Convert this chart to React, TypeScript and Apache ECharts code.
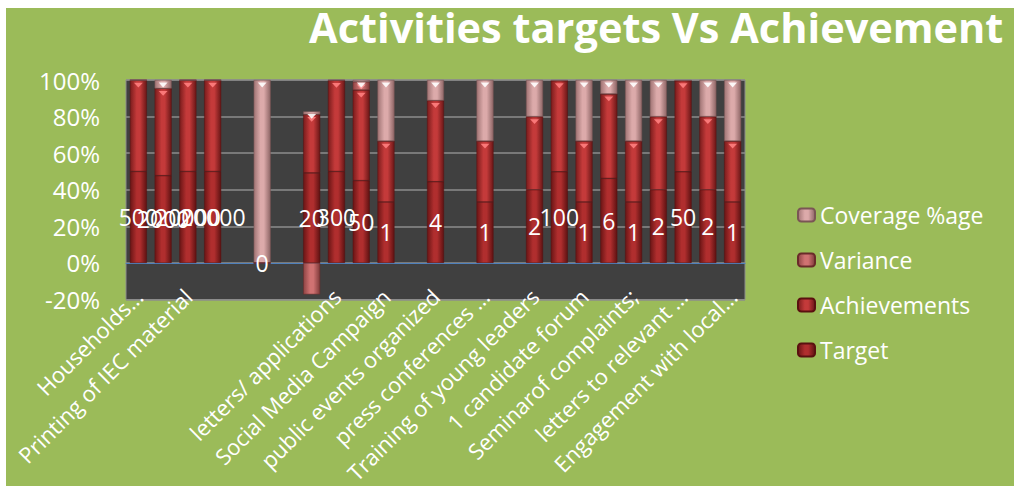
import React, { useEffect, useRef } from "react";
import * as echarts from "echarts";

const categories: string[] = [
  "Households…", "", "Printing of IEC material", "", "", "", "", "",
  "letters/ applications", "", "Social Media Campaign", "", "public events organized", "",
  "press conferences …", "", "Training of young leaders", "", "1 candidate forum", "",
  "Seminarof complaints;", "", "letters to relevant …", "", "Engagement with local…",
];

// 100%-stacked shares (percent of each bar)
const targetShare: (number | null)[] = [50, 47.7, 50, 50, null, 0, null, 49.2, 50, 45, 33.3, null, 44.4, null, 33.3, null, 40, 49.8, 33.3, 46.2, 33.3, 40, 49.8, 40, 33.3];
const achievementShare: (number | null)[] = [49.9, 47.7, 49.9, 49.9, null, 0, null, 32, 49.8, 49.5, 33.3, null, 44.4, null, 33.3, null, 40, 49.8, 33.3, 46.2, 33.3, 40, 49.8, 40, 33.3];
const varianceShare: (number | null)[] = [0, 0, 0, 0, null, 0, null, -17.2, 0, 4.5, 0, null, 0, null, 0, null, 0, 0, 0, 0, 0, 0, 0, 0, 0];
const coverageShare: (number | null)[] = [0.1, 4.6, 0.1, 0.1, null, 100, null, 1.6, 0.2, 1, 33.4, null, 11.2, null, 33.4, null, 20, 0.4, 33.4, 7.6, 33.4, 20, 0.4, 20, 33.4];

// data labels shown on the Target segments
const targetLabels: string[] = ["500", "2000", "20000", "20000", "", "0", "", "20", "300", "50", "1", "", "4", "", "1", "", "2", "100", "1", "6", "1", "2", "50", "2", "1"];

const yTicks = { min: -20, max: 100, interval: 20 };

const FONT = "'Open Sans', Lato, sans-serif";

const grad = (edge: string, mid: string, edge2: string) => ({
  type: "linear",
  x: 0, y: 0, x2: 1, y2: 0,
  colorStops: [
    { offset: 0, color: edge },
    { offset: 0.4, color: mid },
    { offset: 0.6, color: mid },
    { offset: 1, color: edge2 },
  ],
});

// top-of-segment positions (positive stack), derived from the share arrays
const stackTops = (layers: (number | null)[][]) => {
  const out: (number | null)[][] = layers.map(() => []);
  for (let i = 0; i < categories.length; i++) {
    let acc = 0;
    layers.forEach((layer, k) => {
      const v = layer[i];
      if (v == null || v < 1) {
        out[k].push(null);
      } else {
        acc += v;
        out[k].push(acc);
      }
    });
  }
  return out;
};

const W = 1040;
const H = 520;

export default function App() {
  const ref = useRef<HTMLDivElement>(null);
  useEffect(() => {
    if (!ref.current) return;
    const chart = echarts.init(ref.current, null, { renderer: "svg", width: W, height: H });
    const barW = 17;
    const common = {
      type: "bar",
      stack: "total",
      barWidth: barW,
      xAxisIndex: 0,
      yAxisIndex: 0,
    };
    const tops = stackTops([targetShare, achievementShare, varianceShare, coverageShare]);
    const highlightColors = ["#ff7a7a", "#ff8080", "#ffa0a0", "#ffffff"];
    const highlightSeries = tops.map((d, k) => ({
      type: "pictorialBar",
      name: "hl" + k,
      data: d,
      barWidth: barW,
      barGap: "-100%",
      symbol: "triangle",
      symbolRotate: 180,
      symbolSize: [9, 5],
      symbolPosition: "end",
      symbolOffset: [0, "50%"],
      itemStyle: { color: highlightColors[k], opacity: 0.9 },
      silent: true,
      z: 3,
      tooltip: { show: false },
    }));
    chart.setOption({
      animation: false,
      backgroundColor: "#9bbb59",
      textStyle: { fontFamily: FONT },
      title: {
        text: "Activities targets Vs Achievement",
        left: 303,
        top: -2,
        padding: 0,
        textStyle: { color: "#ffffff", fontSize: 41.5, fontWeight: "bold", fontFamily: FONT },
      },
      legend: {
        orient: "vertical",
        left: 791,
        top: 195,
        padding: 0,
        itemWidth: 17,
        itemHeight: 13,
        itemGap: 21,
        data: ["Coverage %age", "Variance", "Achievements", "Target"],
        textStyle: { color: "#ffffff", fontSize: 23, fontFamily: FONT, lineHeight: 24 },
      },
      grid: {
        left: 120,
        top: 72,
        width: 619,
        height: 219.5,
        show: true,
        backgroundColor: "#404040",
        borderColor: "#8c8c8c",
        borderWidth: 1,
      },
      xAxis: [
        {
          type: "category",
          data: categories,
          axisLine: { onZero: true, lineStyle: { color: "#4f81bd", width: 1 } },
          axisTick: { show: false },
          axisLabel: { show: false },
        },
        {
          type: "category",
          data: categories,
          position: "bottom",
          axisLine: { show: false, onZero: false },
          axisTick: { show: false },
          axisLabel: {
            interval: 1,
            rotate: 45,
            margin: -7,
            color: "#ffffff",
            fontSize: 22,
            fontFamily: FONT,
          },
        },
      ],
      yAxis: {
        type: "value",
        min: yTicks.min,
        max: yTicks.max,
        interval: yTicks.interval,
        axisLabel: {
          formatter: "{value}%",
          color: "#ffffff",
          fontSize: 24,
          margin: 26,
          fontFamily: FONT,
        },
        axisLine: { show: false },
        axisTick: { show: false },
        splitLine: { lineStyle: { color: "#8c8c8c", width: 1.5 } },
      },
      series: [
        {
          ...common,
          name: "Target",
          data: targetShare,
          itemStyle: { color: grad("#6a1515", "#b02e2e", "#5e1212"), borderColor: "#5a1010", borderWidth: 0.5 },
          label: {
            show: true,
            position: "inside",
            color: "#ffffff",
            fontSize: 23,
            fontFamily: FONT,
            formatter: (p: any) => targetLabels[p.dataIndex],
          },
          z: 4,
        },
        {
          ...common,
          name: "Achievements",
          data: achievementShare,
          itemStyle: { color: grad("#7a1c1c", "#c43a3a", "#6a1717"), borderColor: "#5a1010", borderWidth: 0.5 },
        },
        {
          ...common,
          name: "Variance",
          data: varianceShare,
          itemStyle: { color: grad("#8e4444", "#d07272", "#7e3a3a"), borderColor: "#6a2a2a", borderWidth: 0.5 },
        },
        {
          ...common,
          name: "Coverage %age",
          data: coverageShare,
          itemStyle: { color: grad("#a07474", "#dcaaaa", "#8e6666"), borderColor: "#7a5555", borderWidth: 0.5 },
        },
        ...highlightSeries,
      ],
    });
    return () => chart.dispose();
  }, []);
  return (
    <div
      ref={ref}
      style={{ position: "fixed", left: 6, top: 8, width: W, height: H, overflow: "hidden" }}
    />
  );
}
